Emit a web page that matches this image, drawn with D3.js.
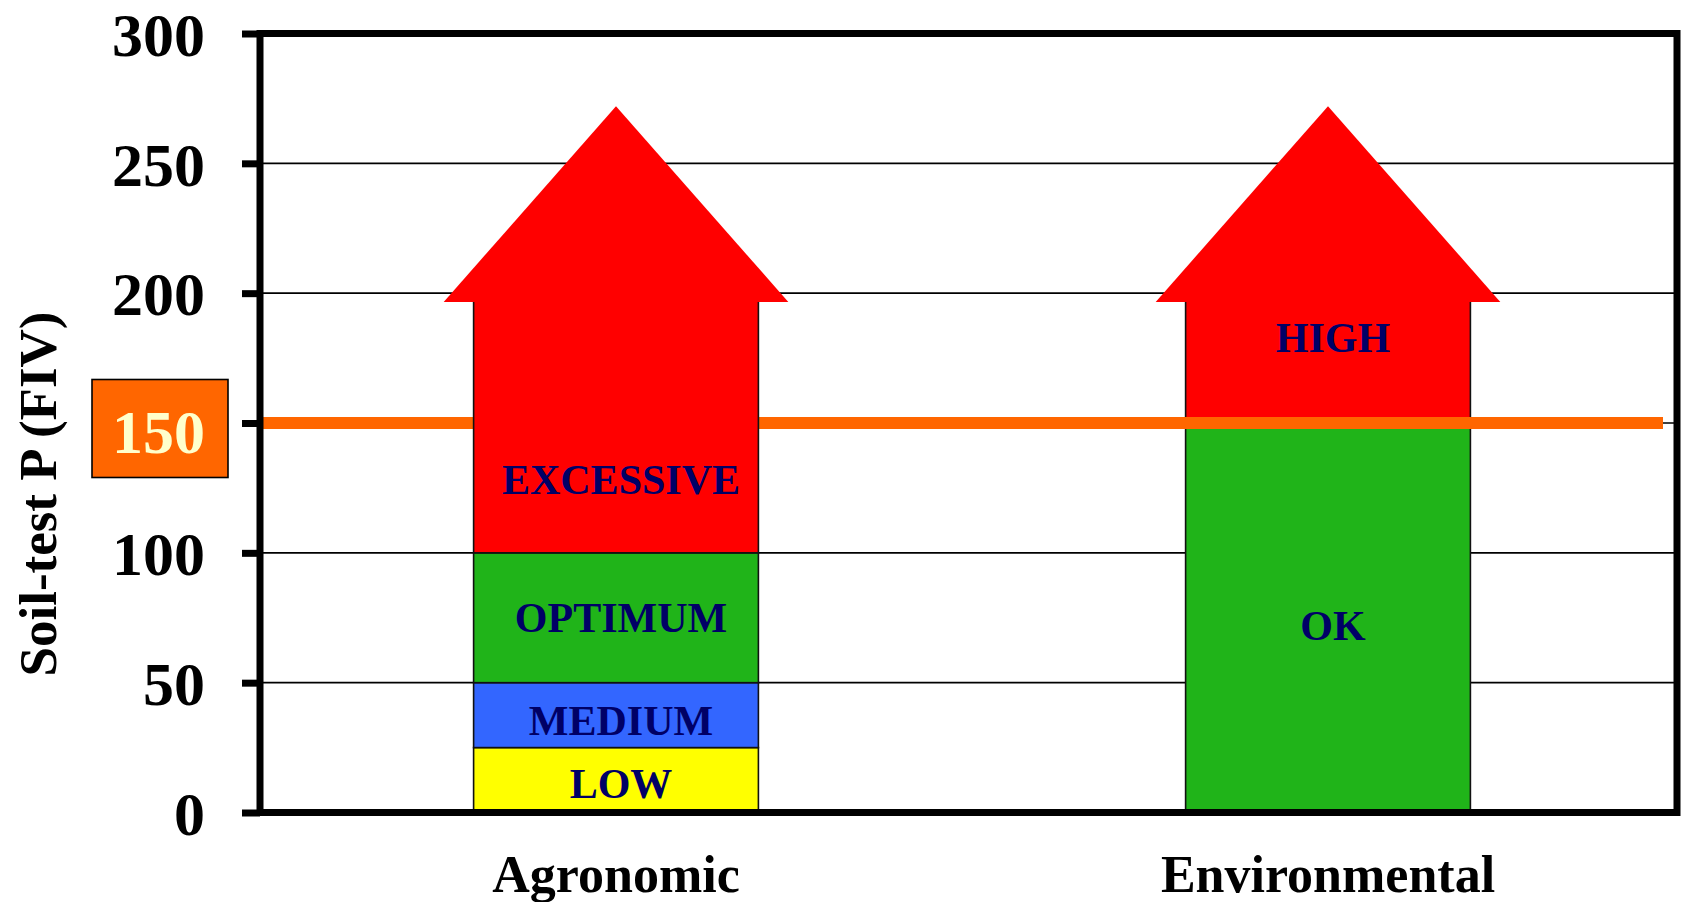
<!DOCTYPE html>
<html>
<head>
<meta charset="utf-8">
<script src="https://cdn.jsdelivr.net/npm/d3@7"></script>
<style>
  html, body { margin: 0; padding: 0; background: #fff; }
  svg { display: block; font-family: "Liberation Serif", "Times New Roman", serif; font-weight: bold; }
</style>
</head>
<body>
<svg id="chart" width="1688" height="902"></svg>
<script>
// Soil-test P interpretation classes (FIV units)
const categories = ["Agronomic", "Environmental"];

// Agronomic classes, stacked from 0 upward
const agroClasses = ["LOW", "MEDIUM", "OPTIMUM", "EXCESSIVE"];
const agroBounds = [0, 25, 50, 100, 197];
const agroColors = ["#FFFF00", "#3366FF", "#20B419", "#FF0000"];
const agroLabelAt = [11, 35.5, 75, 128];

// Environmental classes
const envClasses = ["OK", "HIGH"];
const envBounds = [0, 150, 197];
const envColors = ["#20B419", "#FF0000"];
const envLabelAt = [72, 183];

// Open-ended top class shown as an arrow head
const arrowTip = 272;

// Environmental threshold
const threshold = 150;

const yTicks = [0, 50, 100, 150, 200, 250, 300];
const yTitle = "Soil-test P (FIV)";

const svg = d3.select("#chart");
const plotLeft = 260, plotRight = 1677, plotTop = 33.5, plotBottom = 812.5;

const y = d3.scaleLinear().domain([0, 300]).range([plotBottom, plotTop]);
// Column slots are a little wider than the frame so both columns sit slightly right of the quarter marks
const x = d3.scaleBand().domain(categories).range([plotLeft, plotLeft + 1424])
  .paddingInner(0.6).paddingOuter(0.3);

// Horizontal gridlines
svg.append("g").selectAll("line")
  .data(yTicks.filter(v => v > 0 && v < 300))
  .join("line")
  .attr("x1", plotLeft).attr("x2", plotRight)
  .attr("y1", d => y(d)).attr("y2", d => y(d))
  .attr("stroke", "#000").attr("stroke-width", 1.6);

// Draws one stacked column with an arrow head on top
function drawColumn(cat, bounds, colors, names, labelAt) {
  const g = svg.append("g");
  const x0 = x(cat), bw = x.bandwidth(), cx = x0 + bw / 2;
  const segs = names.map((n, i) => ({ name: n, lo: bounds[i], hi: bounds[i + 1], color: colors[i], at: labelAt[i] }));
  g.selectAll("rect").data(segs).join("rect")
    .attr("x", x0).attr("width", bw)
    .attr("y", d => y(d.hi)).attr("height", d => y(d.lo) - y(d.hi))
    .attr("fill", d => d.color)
    .attr("stroke", "#111").attr("stroke-width", 1.6);
  const topV = bounds[bounds.length - 1];
  const ext = bw * 0.105;
  g.append("polygon")
    .attr("points", [
      [x0 - ext, y(topV) + 1],
      [cx, y(arrowTip)],
      [x0 + bw + ext, y(topV) + 1]
    ].map(p => p.join(",")).join(" "))
    .attr("fill", "#FF0000");
  return { g, segs, cx };
}

function drawLabels(col) {
  col.g.selectAll("text.cls").data(col.segs).join("text")
    .attr("class", "cls")
    .attr("x", col.cx + 5).attr("y", d => y(d.at))
    .attr("dy", "0.34em")
    .attr("text-anchor", "middle")
    .attr("font-size", 42)
    .attr("fill", "#000066")
    .text(d => d.name);
}

// Environmental column first so the threshold line passes over it
const env = drawColumn("Environmental", envBounds, envColors, envClasses, envLabelAt);

// Threshold line at 150
svg.append("line")
  .attr("x1", plotLeft).attr("x2", plotRight - 14)
  .attr("y1", y(threshold)).attr("y2", y(threshold))
  .attr("stroke", "#FF6600").attr("stroke-width", 12);

const agro = drawColumn("Agronomic", agroBounds, agroColors, agroClasses, agroLabelAt);
drawLabels(env);
drawLabels(agro);

// Frame
svg.append("path")
  .attr("d", `M${plotLeft},${plotTop}H${plotRight}V${plotBottom}H${plotLeft}Z`)
  .attr("fill", "none").attr("stroke", "#000").attr("stroke-width", 7)
  .attr("stroke-linejoin", "miter");

// Left axis with outward ticks
const axis = svg.append("g")
  .attr("transform", `translate(${plotLeft},0)`)
  .call(d3.axisLeft(y).tickValues(yTicks).tickSize(18).tickPadding(37).tickFormat(d3.format("d")));
axis.select(".domain").remove();
axis.selectAll(".tick line").attr("stroke", "#000").attr("stroke-width", 7);
axis.selectAll(".tick text")
  .attr("font-size", 62)
  .attr("font-family", "Liberation Serif, Times New Roman, serif")
  .attr("font-weight", "bold")
  .attr("fill", "#000")
  .attr("dy", "0.35em");

// Highlight the threshold tick label
const thrTick = axis.selectAll(".tick").filter(d => d === threshold);
thrTick.select("text").attr("fill", "#FFFFCC").attr("dy", "0.47em");
thrTick.insert("rect", "text")
  .attr("x", -168).attr("y", -44)
  .attr("width", 136).attr("height", 98)
  .attr("fill", "#FF6600").attr("stroke", "#000").attr("stroke-width", 1.6);

// Y axis title
svg.append("text")
  .attr("transform", `translate(56,494) rotate(-90)`)
  .attr("text-anchor", "middle")
  .attr("font-size", 53)
  .attr("fill", "#000")
  .text(yTitle);

// Category labels
svg.append("g").selectAll("text")
  .data(categories).join("text")
  .attr("x", d => x(d) + x.bandwidth() / 2)
  .attr("y", plotBottom + 79)
  .attr("text-anchor", "middle")
  .attr("font-size", 52)
  .attr("fill", "#000")
  .text(d => d);
</script>
</body>
</html>
